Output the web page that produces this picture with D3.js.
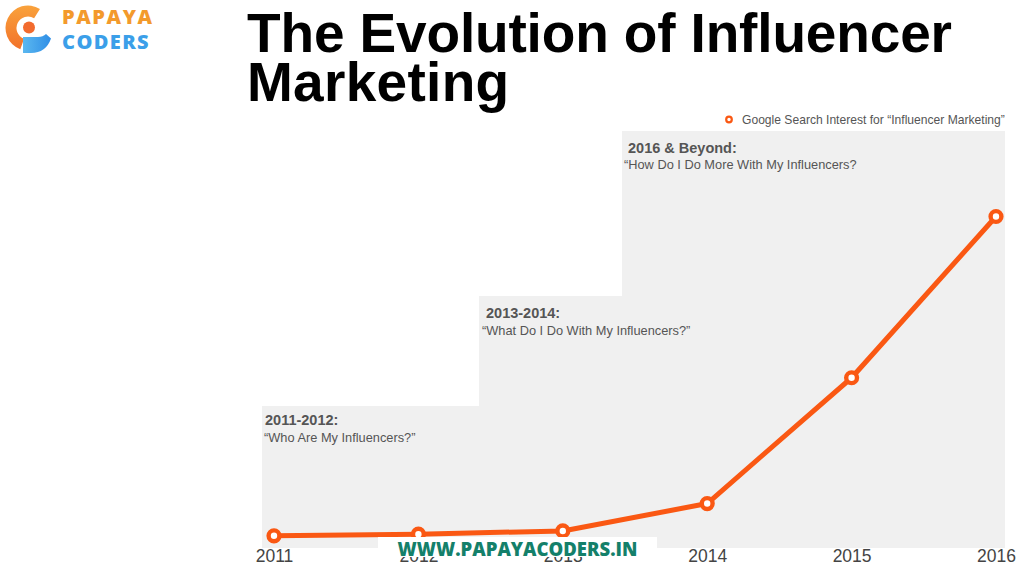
<!DOCTYPE html>
<html>
<head>
<meta charset="utf-8">
<script src="https://cdn.jsdelivr.net/npm/d3@7/dist/d3.min.js"></script>
<style>
  html, body { margin: 0; padding: 0; background: #ffffff; }
  svg { display: block; }
</style>
</head>
<body>
<svg id="chart" width="1024" height="576"></svg>
<script>
// ---- data ----
const years = ["2011", "2012", "2013", "2014", "2015", "2016"];
const interest = [1, 1.5, 2.5, 11, 50, 100];
const eraLabels = ["2011-2012:", "2013-2014:", "2016 & Beyond:"];
const eraQuestions = ["\u201CWho Are My Influencers?\u201D", "\u201CWhat Do I Do With My Influencers?\u201D", "\u201CHow Do I Do More With My Influencers?"];
const titleLines = ["The Evolution of Influencer", "Marketing"];
const legendLabel = "Google Search Interest for \u201CInfluencer Marketing\u201D";

// ---- layout ----
const svg = d3.select("#chart");
const orange = "#fa5813";
const x = d3.scalePoint().domain(years).range([274, 996]);
const y = d3.scaleLinear().domain([0, 100]).range([539, 216.5]);
const step = x.step();

// era panels (geometry is layout, not data)
const panelBottom = 548;
const panels = [
  { x0: x("2011") - 0.083 * step, x1: x("2012") + 0.42 * step, top: 406, tx: 265, ty: 425, qx: 264, qy: 442 },
  { x0: x("2012") + 0.42 * step, x1: x("2013") + 0.41 * step, top: 296, tx: 486, ty: 318, qx: 482, qy: 335 },
  { x0: x("2013") + 0.41 * step, x1: x("2016") + 0.062 * step, top: 131, tx: 628, ty: 153, qx: 624, qy: 169 }
];

svg.append("g").selectAll("rect").data(panels).join("rect")
  .attr("x", d => d.x0).attr("y", d => d.top)
  .attr("width", d => d.x1 - d.x0).attr("height", d => panelBottom - d.top)
  .attr("fill", "#f0f0f0");

const eraG = svg.append("g").attr("font-family", "'Liberation Sans', Arial, Helvetica, sans-serif").attr("fill", "#555");
eraG.selectAll("text.lab").data(panels).join("text").attr("class", "lab")
  .attr("x", d => d.tx).attr("y", d => d.ty)
  .attr("font-size", 14.5).attr("font-weight", "bold")
  .text((d, i) => eraLabels[i]);
eraG.selectAll("text.q").data(panels).join("text").attr("class", "q")
  .attr("x", d => d.qx).attr("y", d => d.qy)
  .attr("font-size", 12.8)
  .text((d, i) => eraQuestions[i]);

// title
const titleSpacing = [-0.15, 0.3];
svg.append("g").selectAll("text").data(titleLines).join("text")
  .attr("x", 247).attr("y", (d, i) => 52 + i * 48.5)
  .attr("font-family", "'Liberation Sans', Arial, Helvetica, sans-serif")
  .attr("font-weight", "bold").attr("font-size", 55).attr("fill", "#000")
  .attr("letter-spacing", (d, i) => titleSpacing[i])
  .text(d => d);

// legend
const lg = svg.append("g");
lg.append("circle").attr("cx", 729).attr("cy", 119.5).attr("r", 2.8)
  .attr("fill", "#fff").attr("stroke", orange).attr("stroke-width", 2.2);
lg.append("text").attr("x", 742).attr("y", 124)
  .attr("font-family", "'Liberation Sans', Arial, Helvetica, sans-serif")
  .attr("font-size", 12.1).attr("fill", "#555").text(legendLabel);

// x axis
const xAxis = d3.axisBottom(x).tickSize(0).tickPadding(0);
const ax = svg.append("g").attr("transform", "translate(0,548)").call(xAxis);
ax.select(".domain").remove();
ax.selectAll("text")
  .attr("y", 14).attr("dy", 0)
  .attr("font-family", "'Liberation Sans', Arial, Helvetica, sans-serif")
  .attr("font-size", 17.5).attr("fill", "#444");

// line + markers
const pts = years.map((yr, i) => ({ yr, v: interest[i] }));
svg.append("path").datum(pts)
  .attr("d", d3.line().x(d => x(d.yr)).y(d => y(d.v)))
  .attr("fill", "none").attr("stroke", orange).attr("stroke-width", 5)
  .attr("stroke-linejoin", "round");
svg.append("g").selectAll("circle").data(pts).join("circle")
  .attr("cx", d => x(d.yr)).attr("cy", d => y(d.v)).attr("r", 5.4)
  .attr("fill", "#fff").attr("stroke", orange).attr("stroke-width", 4.4);

// watermark
const wm = svg.append("g");
wm.append("rect").attr("x", 378).attr("y", 537).attr("width", 279).attr("height", 20).attr("fill", "#fff");
wm.append("text").attr("x", 517.5).attr("y", 555.5).attr("text-anchor", "middle")
  .attr("font-family", "'Open Sans', Lato, sans-serif").attr("font-weight", 800)
  .attr("font-size", 18.5).attr("fill", "#14806a").attr("letter-spacing", 0)
  .text("WWW.PAPAYACODERS.IN");

// logo
const logo = svg.append("g");
const defs = svg.append("defs");
const og = defs.append("linearGradient").attr("id", "og").attr("x1", "0").attr("y1", "0").attr("x2", "0").attr("y2", "1");
og.append("stop").attr("offset", "0").attr("stop-color", "#f9a23c");
og.append("stop").attr("offset", "1").attr("stop-color", "#f2722a");
const bg = defs.append("linearGradient").attr("id", "bg").attr("x1", "0").attr("y1", "0").attr("x2", "1").attr("y2", "0");
bg.append("stop").attr("offset", "0").attr("stop-color", "#5bb8f0");
bg.append("stop").attr("offset", "1").attr("stop-color", "#2f8ee6");
const deg = Math.PI / 180;
logo.append("path").attr("transform", "translate(28,28)")
  .attr("d", d3.arc().innerRadius(11.5).outerRadius(22.5).startAngle(-160 * deg).endAngle(32 * deg)())
  .attr("fill", "url(#og)");
logo.append("circle").attr("cx", 29).attr("cy", 27.5).attr("r", 6).attr("fill", "#f26b2e");
logo.append("path")
  .attr("d", "M23,37 L38,37 Q43,37 46,34 L51,38.5 Q46,53 31,53 L23,53 Z")
  .attr("fill", "url(#bg)");
logo.append("text").attr("x", 62).attr("y", 24)
  .attr("font-family", "'Open Sans', sans-serif").attr("font-weight", 800)
  .attr("font-size", 20).attr("fill", "#f39a2c").attr("letter-spacing", 1.6).text("PAPAYA");
logo.append("text").attr("x", 62).attr("y", 48.5)
  .attr("font-family", "'Open Sans', sans-serif").attr("font-weight", 800)
  .attr("font-size", 20).attr("fill", "#3b9fe9").attr("letter-spacing", 1.4).text("CODERS");
</script>
</body>
</html>
